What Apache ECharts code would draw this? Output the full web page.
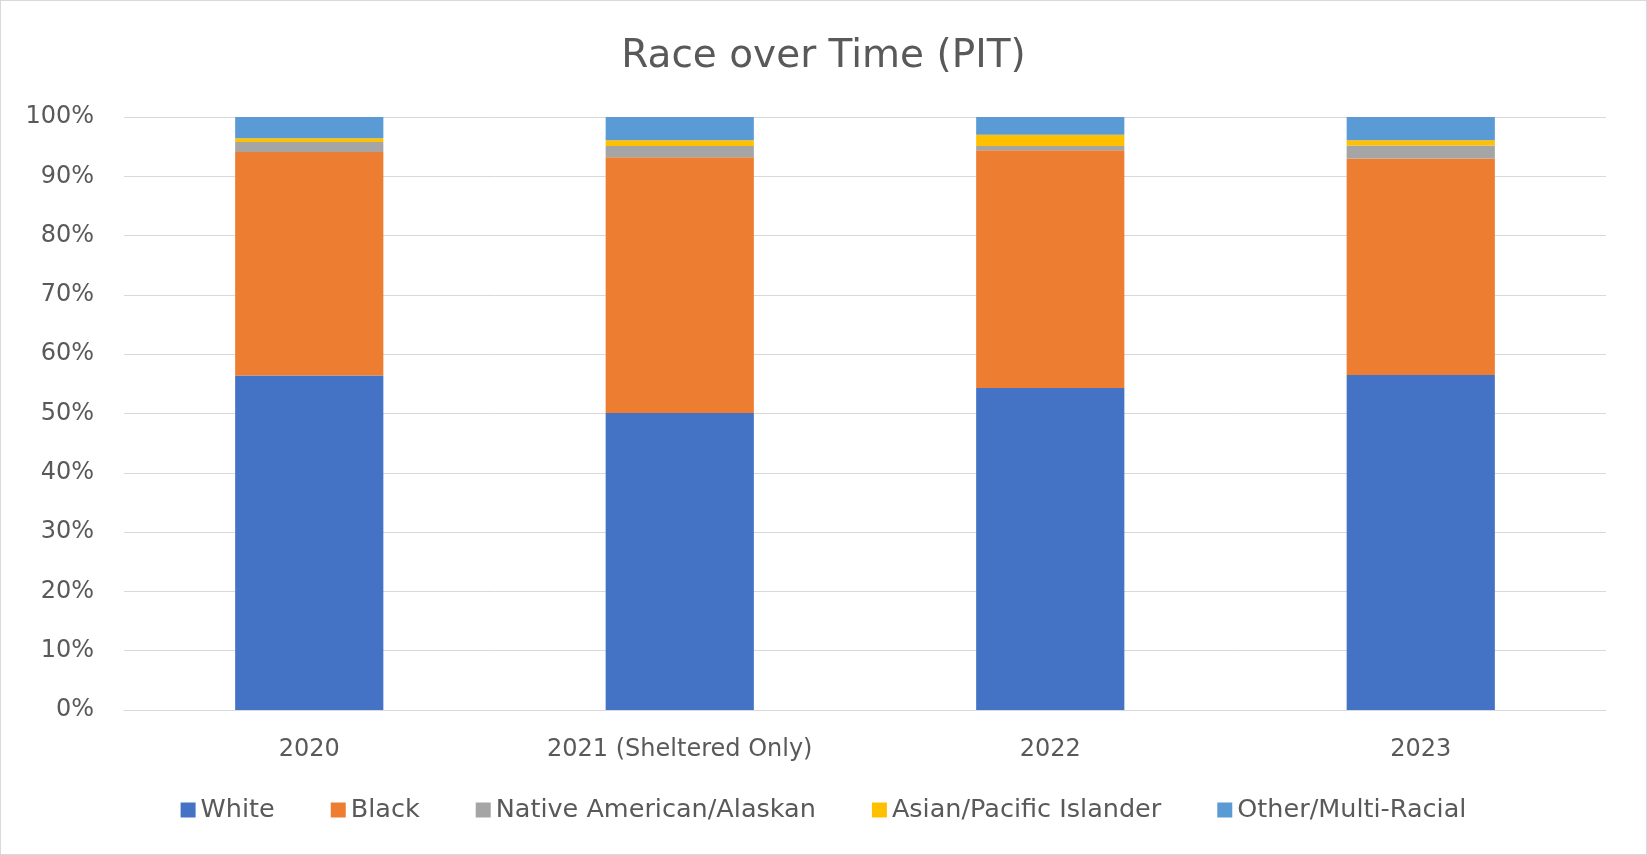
<!DOCTYPE html>
<html>
<head>
<meta charset="utf-8">
<title>Race over Time (PIT)</title>
<script src="https://cdn.jsdelivr.net/npm/echarts@6/dist/echarts.min.js"></script>
<style>
  html, body { margin: 0; padding: 0; background: #fff; }
  #chart { width: 1645px; height: 853px; border: 1px solid #d9d9d9; }
</style>
</head>
<body>
<div id="chart"></div>
<script>
// years on the x axis
var years = ['2020', '2021 (Sheltered Only)', '2022', '2023'];

// share of each group, in percent
var white  = [56.4, 50.1, 54.3, 56.5];
var black  = [37.7, 43.1, 40.1, 36.5];
var native = [1.7, 1.9, 0.7, 2.2];
var asian  = [0.6, 1.0, 1.9, 0.9];
var other  = [3.6, 3.9, 3.0, 3.9];

var names  = ['White', 'Black', 'Native American/Alaskan', 'Asian/Pacific Islander', 'Other/Multi-Racial'];
var colors = ['#4472C4', '#ED7D31', '#A5A5A5', '#FFC000', '#5B9BD5'];

var font = 'DejaVu Sans';
var myChart = echarts.init(document.getElementById('chart'));

function bar(i, data) {
    return {
        name: names[i],
        type: 'bar',
        stack: 'total',
        barCategoryGap: '60%',
        itemStyle: { color: colors[i] },
        data: data
    };
}

var option = {
    animation: false,
    title: {
        text: 'Race over Time (PIT)',
        left: 'center',
        top: 31,
        textStyle: {
            fontFamily: font,
            fontSize: 39,
            fontWeight: 'normal',
            color: '#595959'
        }
    },
    grid: {
        left: 123,
        right: 40,
        top: 116,
        bottom: 144
    },
    legend: {
        bottom: 26,
        left: 'center',
        itemWidth: 15,
        itemHeight: 15,
        itemGap: 56,
        icon: 'rect',
        textStyle: {
            fontFamily: font,
            fontSize: 25.5,
            color: '#595959'
        },
        data: names
    },
    xAxis: {
        type: 'category',
        data: years,
        axisLine: { lineStyle: { color: '#d9d9d9' } },
        axisTick: { show: false },
        axisLabel: {
            fontFamily: font,
            fontSize: 24,
            color: '#595959',
            margin: 28
        }
    },
    yAxis: {
        type: 'value',
        min: 0,
        max: 100,
        interval: 10,
        axisLine: { show: false },
        axisTick: { show: false },
        splitLine: { lineStyle: { color: '#d9d9d9' } },
        axisLabel: {
            fontFamily: font,
            fontSize: 24,
            color: '#595959',
            margin: 30,
            formatter: '{value}%'
        }
    },
    series: [
        bar(0, white),
        bar(1, black),
        bar(2, native),
        bar(3, asian),
        bar(4, other)
    ]
};

myChart.setOption(option);
</script>
</body>
</html>
